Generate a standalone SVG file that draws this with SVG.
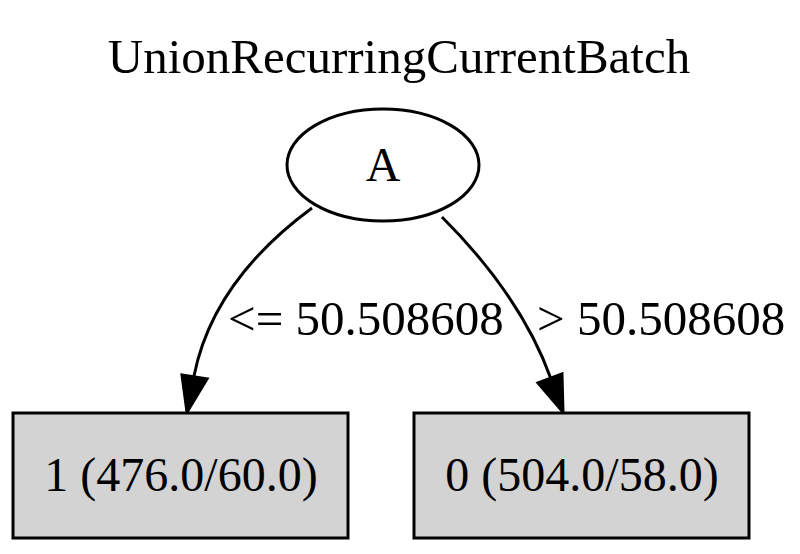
<svg xmlns="http://www.w3.org/2000/svg" width="800" height="554" viewBox="0 0 800 554">
<style>
text{font-family:"Liberation Serif","Times New Roman",serif;fill:#000}
.n{font-size:48px;text-anchor:middle}
.t{font-size:49px;text-anchor:middle}
.e{font-size:49px}
.ln{fill:none;stroke:#000;stroke-width:3}
.box{fill:#d3d3d3;stroke:#000;stroke-width:3}
.ah{fill:#000;stroke:#000;stroke-width:3;stroke-linejoin:miter}
</style>
<rect width="800" height="554" fill="#fff"/>
<text class="t" x="399" y="73">UnionRecurringCurrentBatch</text>
<g id="edges">
<path class="ln" d="M312,208 C255,250 208,305 194,376"/>
<polygon class="ah" points="182,375 207,379 187,412"/>
<text class="e" x="228" y="335">&lt;= 50.508608</text>
<path class="ln" d="M442,217 C490,265 530,320 551,379"/>
<polygon class="ah" points="538,383 562,374 563,412"/>
<text class="e" x="537" y="335">&gt; 50.508608</text>
</g>
<g id="A">
<ellipse class="ln" cx="383" cy="165" rx="96" ry="56"/>
<text class="n" x="383" y="181">A</text>
</g>
<g id="leaf1">
<rect class="box" x="13" y="413" width="335" height="125"/>
<text class="n" x="181" y="491">1 (476.0/60.0)</text>
</g>
<g id="leaf0">
<rect class="box" x="414" y="413" width="335" height="125"/>
<text class="n" x="582" y="491">0 (504.0/58.0)</text>
</g>
</svg>
